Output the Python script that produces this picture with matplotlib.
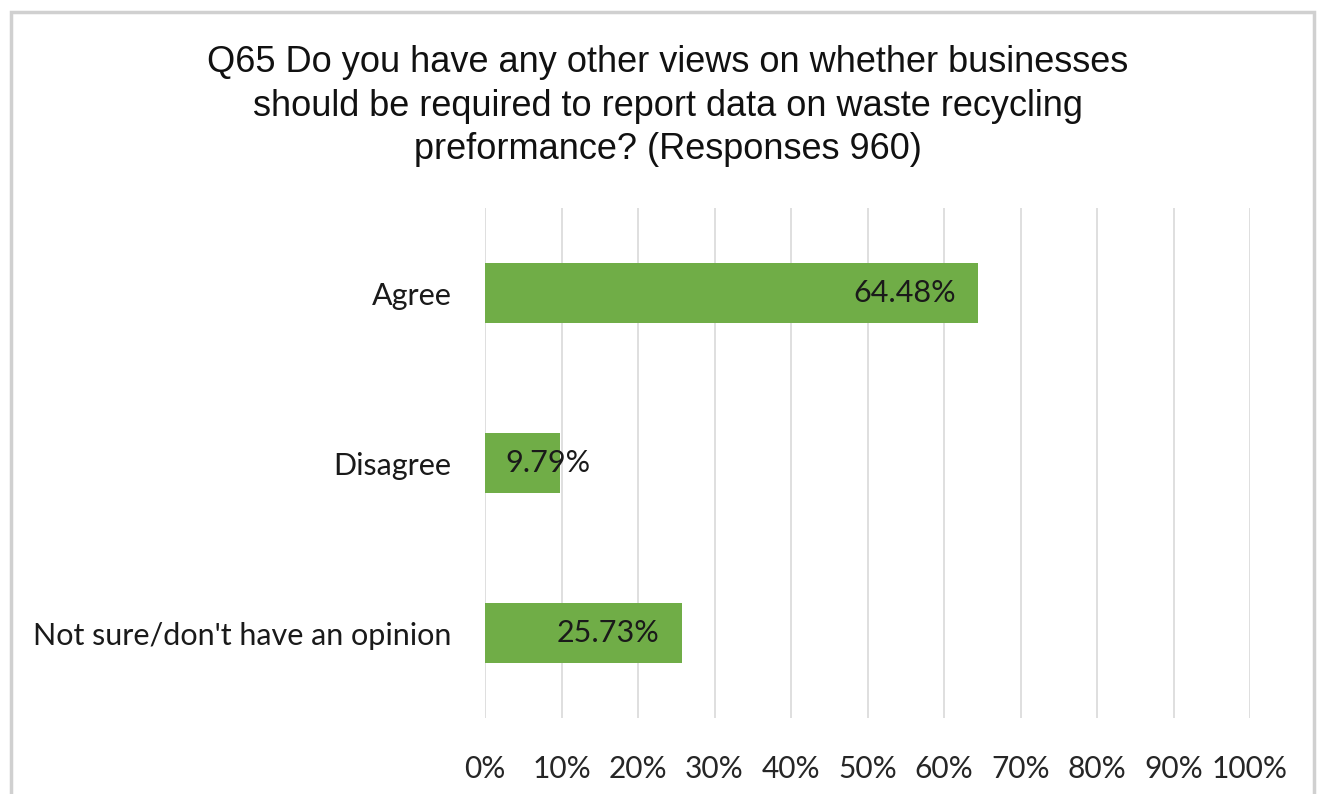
import numpy as np
import matplotlib.pyplot as plt
from matplotlib.patches import Rectangle

# survey answers, top to bottom
categories = ["Agree", "Disagree", "Not sure/don't have an opinion"]
shares = [64.48, 9.79, 25.73]
ticks = [0, 10, 20, 30, 40, 50, 60, 70, 80, 90, 100]
tick_labels = ["%d%%" % t for t in ticks]
title = ("Q65 Do you have any other views on whether businesses\n"
         "should be required to report data on waste recycling\n"
         "preformance? (Responses 960)")

body_font = ["Lato", "DejaVu Sans"]
green = "#70AD47"

fig = plt.figure(figsize=(13.17, 7.94), dpi=100)
ax = fig.add_axes([485/1317, 1-718/794, 765/1317, 510/794])

ypos = np.arange(len(categories))
ax.barh(ypos, shares, height=0.35, color=green, zorder=3)
ax.set_ylim(len(categories) - 0.5, -0.5)
ax.set_xlim(0, 100)

ax.set_xticks(ticks)
ax.set_xticklabels(tick_labels, fontsize=21.5, family=body_font, color="#262626")
ax.set_yticks(ypos)
ax.set_yticklabels(categories, fontsize=22, family=body_font, color="#1a1a1a")
ax.tick_params(axis="x", length=0, pad=27)
ax.tick_params(axis="y", length=0, pad=24)

ax.grid(axis="x", color="#d9d9d9", linewidth=1.2, zorder=0)
for s in ax.spines.values():
    s.set_visible(False)

# value labels: inside the bar end, or from the base when the bar is too short
for y, v in zip(ypos, shares):
    if v < 15:
        ax.text(2.6, y, "%.2f%%" % v, ha="left", va="center", fontsize=22,
                family=body_font, color="#1a1a1a", zorder=4)
    else:
        ax.text(v - 2.9, y, "%.2f%%" % v, ha="right", va="center", fontsize=22,
                family=body_font, color="#1a1a1a", zorder=4)

fig.text(668/1317, 1-106/794, title, ha="center", va="center", fontsize=26,
         family=["Liberation Sans", "DejaVu Sans"], linespacing=1.32, color="#111111")

# chart frame
fig.patches.append(Rectangle((11/1317, -0.05), 1303/1317, 1.05 - 12/794,
                             transform=fig.transFigure, fill=False,
                             edgecolor="#d0d0d0", linewidth=2.5))

plt.savefig("out.png", dpi=100)
